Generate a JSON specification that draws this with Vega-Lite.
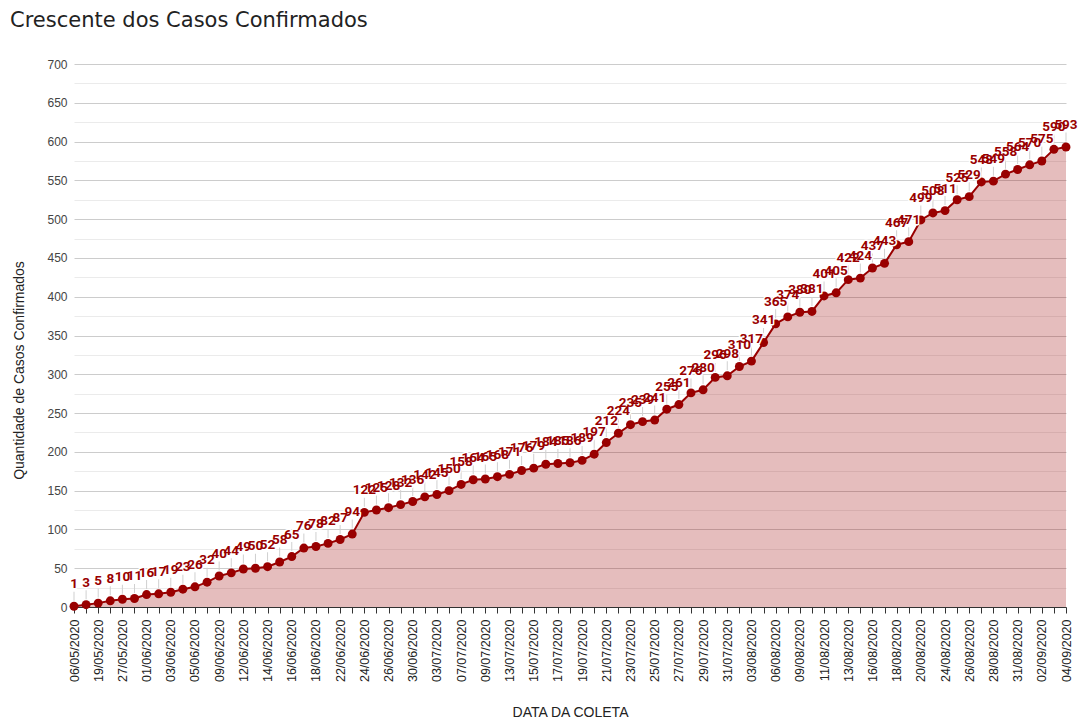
{
  "$schema": "https://vega.github.io/schema/vega-lite/v6.json",
  "width": 992,
  "height": 543,
  "autosize": "none",
  "padding": {"left": 74, "top": 64, "right": 16, "bottom": 113},
  "background": "white",
  "title": {
    "text": "Crescente dos Casos Confirmados",
    "anchor": "start",
    "frame": "group",
    "dx": -64,
    "offset": 27,
    "font": "DejaVu Sans",
    "fontSize": 21,
    "fontWeight": "normal",
    "color": "#222222"
  },
  "data": {
    "values": [
      {"data": "06/05/2020", "casos": 1},
      {"data": "13/05/2020", "casos": 3},
      {"data": "19/05/2020", "casos": 5},
      {"data": "22/05/2020", "casos": 8},
      {"data": "27/05/2020", "casos": 10},
      {"data": "29/05/2020", "casos": 11},
      {"data": "01/06/2020", "casos": 16},
      {"data": "02/06/2020", "casos": 17},
      {"data": "03/06/2020", "casos": 19},
      {"data": "04/06/2020", "casos": 23},
      {"data": "05/06/2020", "casos": 26},
      {"data": "08/06/2020", "casos": 32},
      {"data": "09/06/2020", "casos": 40},
      {"data": "10/06/2020", "casos": 44},
      {"data": "12/06/2020", "casos": 49},
      {"data": "13/06/2020", "casos": 50},
      {"data": "14/06/2020", "casos": 52},
      {"data": "15/06/2020", "casos": 58},
      {"data": "16/06/2020", "casos": 65},
      {"data": "17/06/2020", "casos": 76},
      {"data": "18/06/2020", "casos": 78},
      {"data": "19/06/2020", "casos": 82},
      {"data": "22/06/2020", "casos": 87},
      {"data": "23/06/2020", "casos": 94},
      {"data": "24/06/2020", "casos": 122},
      {"data": "25/06/2020", "casos": 125},
      {"data": "26/06/2020", "casos": 128},
      {"data": "29/06/2020", "casos": 132},
      {"data": "30/06/2020", "casos": 136},
      {"data": "01/07/2020", "casos": 142},
      {"data": "03/07/2020", "casos": 145},
      {"data": "06/07/2020", "casos": 150},
      {"data": "07/07/2020", "casos": 158},
      {"data": "08/07/2020", "casos": 164},
      {"data": "09/07/2020", "casos": 165},
      {"data": "10/07/2020", "casos": 168},
      {"data": "13/07/2020", "casos": 171},
      {"data": "14/07/2020", "casos": 176},
      {"data": "15/07/2020", "casos": 179},
      {"data": "16/07/2020", "casos": 184},
      {"data": "17/07/2020", "casos": 185},
      {"data": "18/07/2020", "casos": 186},
      {"data": "19/07/2020", "casos": 189},
      {"data": "20/07/2020", "casos": 197},
      {"data": "21/07/2020", "casos": 212},
      {"data": "22/07/2020", "casos": 224},
      {"data": "23/07/2020", "casos": 235},
      {"data": "24/07/2020", "casos": 239},
      {"data": "25/07/2020", "casos": 241},
      {"data": "26/07/2020", "casos": 255},
      {"data": "27/07/2020", "casos": 261},
      {"data": "28/07/2020", "casos": 276},
      {"data": "29/07/2020", "casos": 280},
      {"data": "30/07/2020", "casos": 296},
      {"data": "31/07/2020", "casos": 298},
      {"data": "01/08/2020", "casos": 310},
      {"data": "03/08/2020", "casos": 317},
      {"data": "04/08/2020", "casos": 341},
      {"data": "06/08/2020", "casos": 365},
      {"data": "07/08/2020", "casos": 374},
      {"data": "09/08/2020", "casos": 380},
      {"data": "10/08/2020", "casos": 381},
      {"data": "11/08/2020", "casos": 401},
      {"data": "12/08/2020", "casos": 405},
      {"data": "13/08/2020", "casos": 422},
      {"data": "14/08/2020", "casos": 424},
      {"data": "16/08/2020", "casos": 437},
      {"data": "17/08/2020", "casos": 443},
      {"data": "18/08/2020", "casos": 467},
      {"data": "19/08/2020", "casos": 471},
      {"data": "20/08/2020", "casos": 499},
      {"data": "21/08/2020", "casos": 508},
      {"data": "24/08/2020", "casos": 511},
      {"data": "25/08/2020", "casos": 525},
      {"data": "26/08/2020", "casos": 529},
      {"data": "27/08/2020", "casos": 548},
      {"data": "28/08/2020", "casos": 549},
      {"data": "29/08/2020", "casos": 558},
      {"data": "31/08/2020", "casos": 564},
      {"data": "01/09/2020", "casos": 570},
      {"data": "02/09/2020", "casos": 575},
      {"data": "03/09/2020", "casos": 590},
      {"data": "04/09/2020", "casos": 593}
    ]
  },
  "encoding": {
    "x": {
      "field": "data",
      "type": "ordinal",
      "sort": null,
      "scale": {"type": "point", "padding": 0},
      "axis": {
        "title": "DATA DA COLETA",
        "titleFont": "Liberation Sans",
        "titleFontSize": 14,
        "titleFontWeight": "normal",
        "titleColor": "#222222",
        "titleY": 109,
        "titleBaseline": "alphabetic",
        "labelAngle": 270,
        "labelFont": "Liberation Sans",
        "labelFontSize": 12.5,
        "labelColor": "#222222",
        "labelOverlap": false,
        "labelPadding": 6,
        "labelExpr": "indexof(['06/05/2020','19/05/2020','27/05/2020','01/06/2020','03/06/2020','05/06/2020','09/06/2020','12/06/2020','14/06/2020','16/06/2020','18/06/2020','22/06/2020','24/06/2020','26/06/2020','30/06/2020','03/07/2020','07/07/2020','09/07/2020','13/07/2020','15/07/2020','17/07/2020','19/07/2020','21/07/2020','23/07/2020','25/07/2020','27/07/2020','29/07/2020','31/07/2020','03/08/2020','06/08/2020','09/08/2020','11/08/2020','13/08/2020','16/08/2020','18/08/2020','20/08/2020','24/08/2020','26/08/2020','28/08/2020','31/08/2020','02/09/2020','04/09/2020'], datum.value) >= 0 ? datum.value : ''",
        "tickColor": "#333333",
        "tickSize": 6,
        "domainColor": "#333333",
        "grid": false
      }
    }
  },
  "layer": [
    {
      "mark": {"type": "area", "fill": "#990000", "fillOpacity": 0.26},
      "encoding": {
        "y": {
          "field": "casos",
          "type": "quantitative",
          "scale": {"domain": [0, 700], "nice": false},
          "axis": {
            "orient": "left",
            "values": [25, 75, 125, 175, 225, 275, 325, 375, 425, 475, 525, 575, 625, 675],
            "grid": true,
            "gridColor": "#ebebeb",
            "labels": false,
            "ticks": false,
            "domain": false,
            "title": null
          }
        }
      }
    },
    {
      "mark": {"type": "tick", "orient": "vertical", "size": 9, "thickness": 1, "color": "#d0d0d0", "opacity": 1, "yOffset": -10},
      "encoding": {
        "y": {"field": "casos", "type": "quantitative", "axis": null}
      }
    },
    {
      "mark": {"type": "line", "color": "#990000", "strokeWidth": 2},
      "encoding": {
        "y": {
          "field": "casos",
          "type": "quantitative",
          "axis": {
            "orient": "left",
            "values": [0, 50, 100, 150, 200, 250, 300, 350, 400, 450, 500, 550, 600, 650, 700],
            "grid": true,
            "gridColor": "#cccccc",
            "domain": false,
            "ticks": false,
            "labelPadding": 7,
            "labelFont": "Liberation Sans",
            "labelFontSize": 12,
            "labelColor": "#444444",
            "title": "Quantidade de Casos Confirmados",
            "titleFont": "Liberation Sans",
            "titleFontSize": 14,
            "titleFontWeight": "normal",
            "titleColor": "#222222",
            "titleX": -51,
            "titleY": 306,
            "titleAngle": 270,
            "titleAlign": "center",
            "titleBaseline": "alphabetic"
          }
        }
      }
    },
    {
      "mark": {"type": "circle", "color": "#990000", "size": 80, "opacity": 1},
      "encoding": {
        "y": {"field": "casos", "type": "quantitative", "axis": null}
      }
    },
    {
      "mark": {"type": "text", "dy": -22, "baseline": "middle", "align": "center", "font": "Roboto", "fontWeight": "bold", "fontSize": 13.5, "stroke": "white", "strokeWidth": 3, "strokeJoin": "round", "fill": "white"},
      "encoding": {
        "y": {"field": "casos", "type": "quantitative", "axis": null},
        "text": {"field": "casos", "type": "quantitative"}
      }
    },
    {
      "mark": {"type": "text", "dy": -22, "baseline": "middle", "align": "center", "font": "Roboto", "fontWeight": "bold", "fontSize": 13.5, "color": "#990000"},
      "encoding": {
        "y": {"field": "casos", "type": "quantitative", "axis": null},
        "text": {"field": "casos", "type": "quantitative"}
      }
    }
  ],
  "resolve": {"axis": {"y": "independent"}},
  "config": {"view": {"stroke": null}}
}
